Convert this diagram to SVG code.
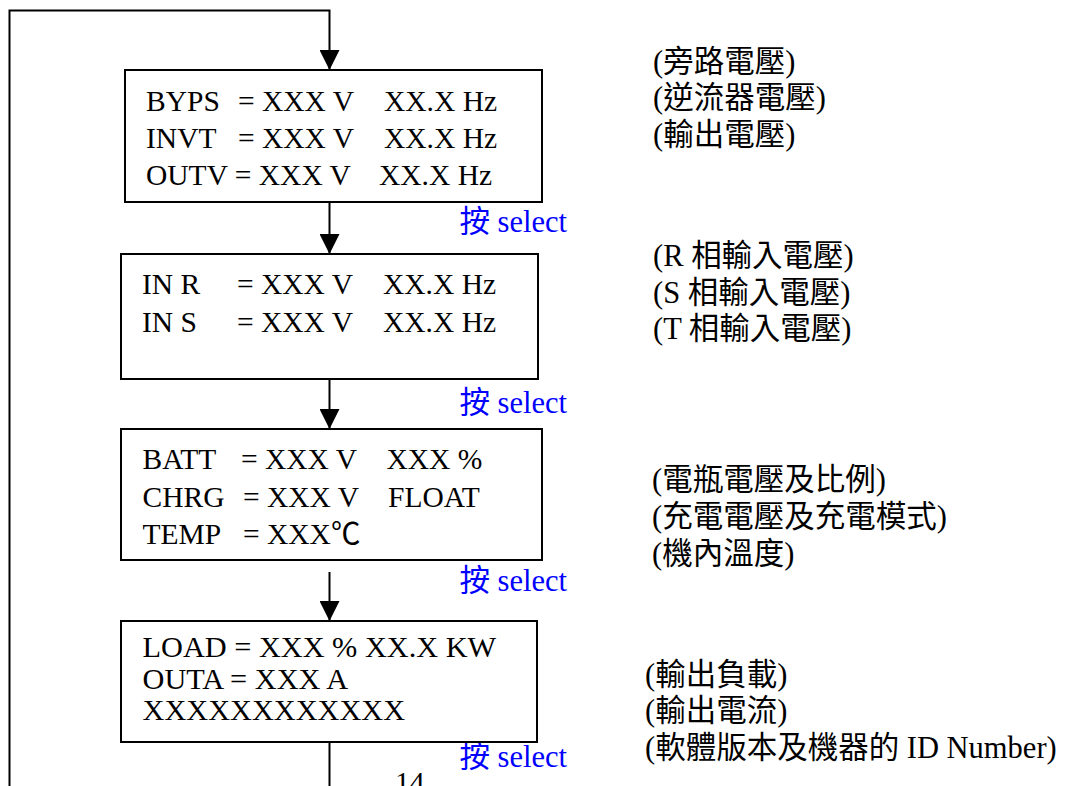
<svg xmlns="http://www.w3.org/2000/svg" width="1076" height="786" viewBox="0 0 1076 786">
<style>
.box{fill:#fff;stroke:#000;stroke-width:2}
.t{font-family:"Liberation Serif","Noto Sans CJK TC",serif;font-size:29.5px;fill:#000}
.t4{font-family:"Liberation Serif","Noto Sans CJK TC",serif;font-size:30.3px;fill:#000}
.n{font-family:"Liberation Serif","Noto Sans CJK TC",serif;font-size:30.5px;fill:#000}
.b{font-family:"Liberation Serif","Noto Sans CJK TC",serif;font-size:30.5px;fill:#0000ff}
.c{fill:none;stroke:#000;stroke-width:2}
</style>
<defs>
<marker id="ah" markerUnits="userSpaceOnUse" markerWidth="20" markerHeight="20" refX="20" refY="10" orient="auto">
<path d="M0,0 L20,10 L0,20 z" fill="#000"/>
</marker>
</defs>
<rect width="1076" height="786" fill="#fff"/>
<g id="connectors">
<path class="c" d="M329.5,742 V800 H9.5 V10.5 H329.5 V70" marker-end="url(#ah)"/>
<path class="c" d="M329.5,202 V254" marker-end="url(#ah)"/>
<path class="c" d="M329.5,379 V429" marker-end="url(#ah)"/>
<path class="c" d="M329.5,572 V621" marker-end="url(#ah)"/>
<text class="b" x="459.5" y="232">按 select</text>
<text class="b" x="459.5" y="413">按 select</text>
<text class="b" x="459.5" y="591">按 select</text>
<text class="b" x="459.5" y="767">按 select</text>
</g>
<g id="node1">
<rect class="box" x="125" y="70" width="417" height="132"/>
<text class="t" y="111"><tspan x="146">BYPS</tspan><tspan x="238">= XXX V</tspan><tspan x="384">XX.X Hz</tspan></text>
<text class="t" y="148"><tspan x="146">INVT</tspan><tspan x="238">= XXX V</tspan><tspan x="384">XX.X Hz</tspan></text>
<text class="t" y="184.5"><tspan x="146">OUTV = XXX V</tspan><tspan x="379">XX.X Hz</tspan></text>
</g>
<g id="node2">
<rect class="box" x="121" y="254" width="417" height="125"/>
<text class="t" y="294"><tspan x="142">IN R</tspan><tspan x="237">= XXX V</tspan><tspan x="383">XX.X Hz</tspan></text>
<text class="t" y="331.5"><tspan x="142">IN S</tspan><tspan x="237">= XXX V</tspan><tspan x="383">XX.X Hz</tspan></text>
</g>
<g id="node3">
<rect class="box" x="121" y="429" width="421" height="131"/>
<text class="t" y="469"><tspan x="142.5">BATT</tspan><tspan x="241">= XXX V</tspan><tspan x="386.5">XXX %</tspan></text>
<text class="t" y="506.5"><tspan x="142.5">CHRG</tspan><tspan x="243">= XXX V</tspan><tspan x="388">FLOAT</tspan></text>
<text class="t" y="544"><tspan x="142.5">TEMP</tspan><tspan x="243">= XXX℃</tspan></text>
</g>
<g id="node4">
<rect class="box" x="121" y="621" width="416" height="121"/>
<text class="t4" x="142.5" y="656.5">LOAD = XXX % XX.X KW</text>
<text class="t4" x="142.5" y="689">OUTA = XXX A</text>
<text class="t4" x="142.5" y="720">XXXXXXXXXXXX</text>
</g>
<g id="notes1">
<text class="n" x="653" y="71.5">(旁路電壓)</text>
<text class="n" x="653" y="108">(逆流器電壓)</text>
<text class="n" x="653" y="144.5">(輸出電壓)</text>
</g>
<g id="notes2">
<text class="n" x="653" y="266">(R 相輸入電壓)</text>
<text class="n" x="653" y="303">(S 相輸入電壓)</text>
<text class="n" x="653" y="339">(T 相輸入電壓)</text>
</g>
<g id="notes3">
<text class="n" x="652" y="490">(電瓶電壓及比例)</text>
<text class="n" x="652" y="527">(充電電壓及充電模式)</text>
<text class="n" x="652" y="564">(機內溫度)</text>
</g>
<g id="notes4">
<text class="n" x="645" y="685">(輸出負載)</text>
<text class="n" x="645" y="721">(輸出電流)</text>
<text class="n" x="645" y="758">(軟體版本及機器的 ID Number)</text>
</g>
<text class="t" x="395" y="792">14</text>
</svg>
